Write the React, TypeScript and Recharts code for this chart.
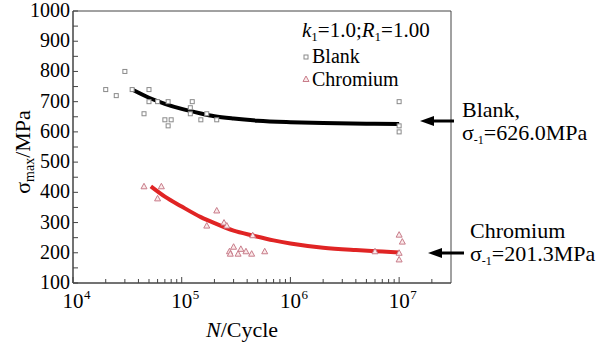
import React from "react";
import { ComposedChart, XAxis, YAxis, Scatter, Line, ReferenceArea } from "recharts";

const FONT = "Liberation Serif, Times New Roman, DejaVu Serif, serif";

// Blank specimens: cycles and max stress (MPa)
const blankN = [2.0e4, 2.5e4, 3.0e4, 3.5e4, 4.5e4, 5.0e4, 5.0e4, 6.0e4, 7.0e4, 7.5e4, 7.5e4, 8.0e4, 1.2e5, 1.2e5, 1.25e5, 1.5e5, 1.7e5, 2.1e5, 1.0e7, 1.0e7, 1.0e7];
const blankS = [740, 720, 800, 740, 660, 740, 700, 700, 640, 700, 620, 640, 680, 660, 700, 640, 660, 640, 700, 620, 600];

// Chromium plated specimens
const chromN = [4.5e4, 6.0e4, 6.5e4, 1.7e5, 2.1e5, 2.45e5, 2.6e5, 2.75e5, 2.8e5, 3.0e5, 3.3e5, 3.5e5, 3.9e5, 4.4e5, 4.5e5, 5.8e5, 6.0e6, 1.0e7, 1.07e7, 1.0e7, 1.0e7];
const chromS = [420, 380, 420, 290, 340, 300, 290, 205, 197, 220, 197, 213, 205, 197, 258, 205, 205, 260, 237, 200, 178];

// fitted S-N curves
const blankFitN = [3.5e4, 5e4, 7e4, 1e5, 1.5e5, 2e5, 3e5, 5e5, 1e6, 2e6, 5e6, 1e7];
const blankFitS = [740, 713, 693, 676, 661, 652, 644, 637, 632, 629, 627, 626];
const chromFitN = [5.2e4, 7e4, 1e5, 1.5e5, 2e5, 3e5, 4.5e5, 7e5, 1e6, 2e6, 4e6, 7e6, 1e7];
const chromFitS = [420, 386, 353, 318, 298, 273, 257, 241, 231, 217, 209, 204, 201];

const xTicks = [1e4, 2e4, 3e4, 4e4, 5e4, 6e4, 7e4, 8e4, 9e4, 1e5, 2e5, 3e5, 4e5, 5e5, 6e5, 7e5, 8e5, 9e5, 1e6, 2e6, 3e6, 4e6, 5e6, 6e6, 7e6, 8e6, 9e6, 1e7, 2e7];
const yTicks = [100, 150, 200, 250, 300, 350, 400, 450, 500, 550, 600, 650, 700, 750, 800, 850, 900, 950, 1000];

const zip = (xs: number[], ys: number[]) => xs.map((x, i) => ({ x, y: ys[i] }));
const blank = zip(blankN, blankS);
const chrom = zip(chromN, chromS);
const blankFit = zip(blankFitN, blankFitS);
const chromFit = zip(chromFitN, chromFitS);

const AXIS = "#444";
const txt = { fontFamily: FONT };

const XTick = (props: any) => {
  const { x, y, payload } = props;
  const lg = Math.log10(payload.value);
  const e = Math.round(lg);
  const major = Math.abs(lg - e) < 1e-6;
  return (
    <g>
      <line x1={x} x2={x} y1={y} y2={y - (major ? 6 : 4)} stroke={AXIS} />
      {major && (
        <>
          <text x={x} y={y + 25} textAnchor="middle" style={txt} fontSize={21} fill="#000">10</text>
          <text x={x + 11} y={y + 16} style={txt} fontSize={13} fill="#000">{e}</text>
        </>
      )}
    </g>
  );
};

const YTick = (props: any) => {
  const { x, y, payload } = props;
  const major = payload.value % 100 === 0;
  return (
    <g>
      <line x1={x} x2={x + 5} y1={y} y2={y} stroke={AXIS} />
      {major && (
        <text x={x - 3} y={y + 6} textAnchor="end" style={txt} fontSize={20} fill="#000">{payload.value}</text>
      )}
    </g>
  );
};

const Square = (p: any) => (
  <rect x={p.cx - 2} y={p.cy - 2} width={4} height={4} fill="#fff" stroke="#8a8a8a" strokeWidth={1} />
);
const Triangle = (p: any) => (
  <path d={`M${p.cx},${p.cy - 3} L${p.cx + 3},${p.cy + 2.5} L${p.cx - 3},${p.cy + 2.5} Z`} fill="#fbeaea" stroke="#c87c8a" strokeWidth={1} />
);

const Arrow = ({ x1, x2, y }: { x1: number; x2: number; y: number }) => (
  <g>
    <line x1={x1 + 10} x2={x2} y1={y} y2={y} stroke="#000" strokeWidth={3} />
    <path d={`M${x1},${y} L${x1 + 14},${y - 5} L${x1 + 14},${y + 5} Z`} fill="#000" />
  </g>
);

export default function App() {
  return (
    <div style={{ position: "absolute", left: 0, top: 0, width: 611, height: 344, background: "#fff", fontFamily: FONT }}>
      <ComposedChart width={611} height={344} margin={{ top: 11, right: 160, left: 13, bottom: 21 }}>
        <XAxis
          dataKey="x"
          type="number"
          scale="log"
          domain={[1e4, 3e7]}
          allowDataOverflow
          ticks={xTicks}
          interval={0}
          tickSize={0}
          tickMargin={0}
          tick={<XTick />}
          axisLine={{ stroke: AXIS }}
          height={40}
        />
        <YAxis
          dataKey="y"
          type="number"
          domain={[100, 1000]}
          ticks={yTicks}
          interval={0}
          tickSize={0}
          tickMargin={0}
          tick={<YTick />}
          axisLine={{ stroke: AXIS }}
          width={60}
        />
        <ReferenceArea x1={1e4} x2={3e7} y1={100} y2={1000} fill="none" stroke={AXIS} strokeWidth={1} />
        <Scatter data={blank} dataKey="y" shape={<Square />} isAnimationActive={false} />
        <Scatter data={chrom} dataKey="y" shape={<Triangle />} isAnimationActive={false} />
        <Line data={blankFit} dataKey="y" type="monotone" stroke="#000" strokeWidth={4} dot={false} isAnimationActive={false} />
        <Line data={chromFit} dataKey="y" type="monotone" stroke="#e02424" strokeWidth={4} dot={false} isAnimationActive={false} />
      </ComposedChart>
      <svg width={611} height={344} style={{ position: "absolute", left: 0, top: 0, pointerEvents: "none", fontFamily: FONT }} fill="#000">
        <text x={30} y={152} transform="rotate(-90 30 152)" textAnchor="middle" fontSize={22}>
          σ<tspan fontSize={14} dy={4}>max</tspan><tspan dy={-4}>/MPa</tspan>
        </text>
        <text x={242} y={337} textAnchor="middle" fontSize={22}>
          <tspan fontStyle="italic">N</tspan>/Cycle
        </text>

        <text x={302} y={37} fontSize={21}>
          <tspan fontStyle="italic">k</tspan><tspan fontSize={13} dy={4}>1</tspan><tspan dy={-4}>=1.0;</tspan>
          <tspan fontStyle="italic">R</tspan><tspan fontSize={13} dy={4}>1</tspan><tspan dy={-4}>=1.00</tspan>
        </text>
        <Square cx={306} cy={57} />
        <text x={312} y={63} fontSize={20}>Blank</text>
        <Triangle cx={306} cy={79} />
        <text x={312} y={86} fontSize={20}>Chromium</text>

        <Arrow x1={420} x2={454} y={121} />
        <text x={462} y={117} fontSize={22}>Blank,</text>
        <text x={462} y={140} fontSize={22}>
          σ<tspan fontSize={12} dy={4}>-1</tspan><tspan dy={-4}>=626.0MPa</tspan>
        </text>

        <Arrow x1={428} x2={464} y={253} />
        <text x={470} y={238} fontSize={22}>Chromium</text>
        <text x={470} y={261} fontSize={22}>
          σ<tspan fontSize={12} dy={4}>-1</tspan><tspan dy={-4}>=201.3MPa</tspan>
        </text>
      </svg>
    </div>
  );
}
